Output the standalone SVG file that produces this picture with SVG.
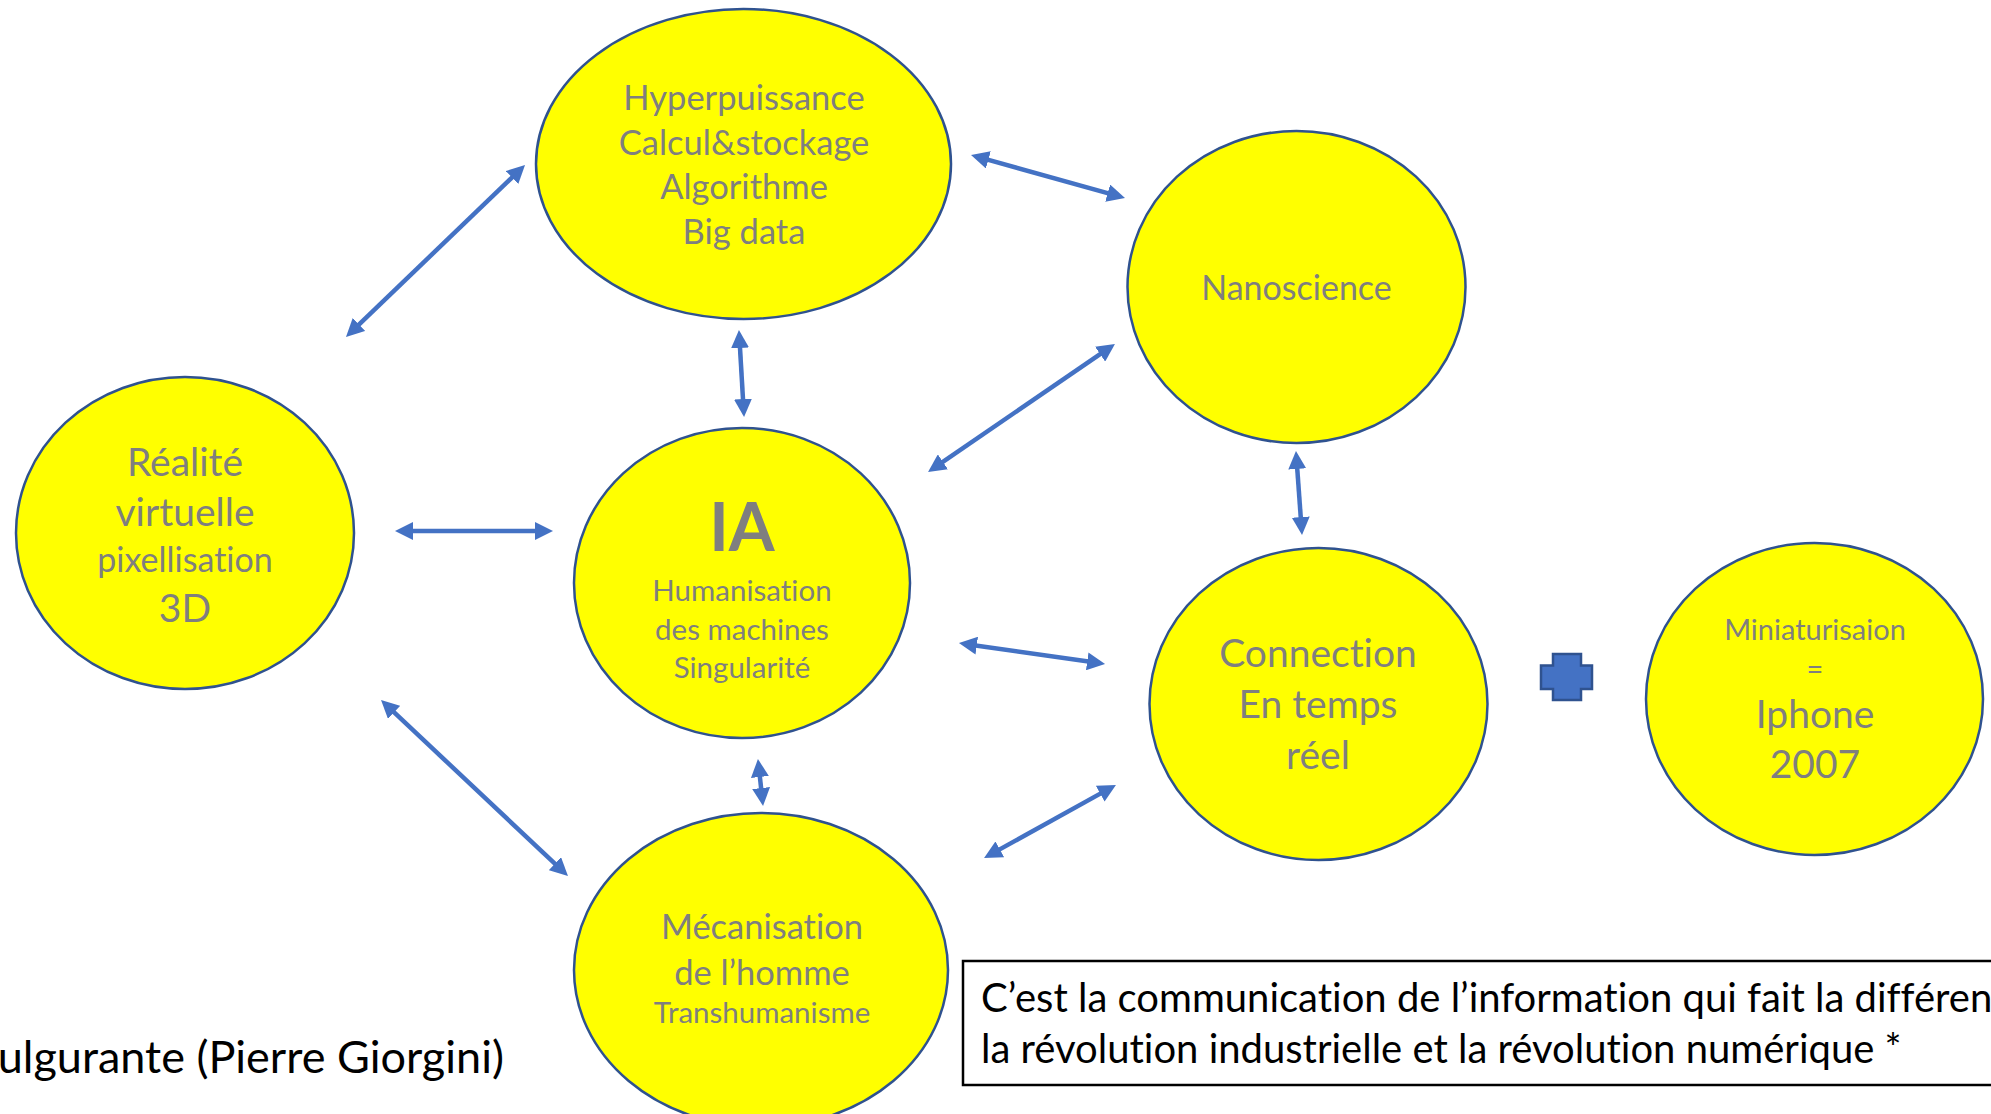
<svg xmlns="http://www.w3.org/2000/svg" width="1991" height="1114" viewBox="0 0 1991 1114">
<style>
.node ellipse{fill:#FFFF00;stroke:#2F528F;stroke-width:2.5}
.t{font-family:Lato,"Open Sans","Liberation Sans",sans-serif;fill:#7F7F7F;text-anchor:middle;font-variant-ligatures:none}
.k{font-family:Lato,"Open Sans","Liberation Sans",sans-serif;fill:#000000;font-variant-ligatures:none}
.conn line{stroke:#4472C4;stroke-width:4.5;marker-start:url(#ah);marker-end:url(#ah)}
</style>
<defs>
<marker id="ah" viewBox="0 0 18 18" markerUnits="userSpaceOnUse" markerWidth="18" markerHeight="18" refX="12" refY="9" orient="auto-start-reverse">
<path d="M0,0 L18,9 L0,18 z" fill="#4472C4"/>
</marker>
</defs>
<rect width="1991" height="1114" fill="#FFFFFF"/>
<g id="connectors" class="conn">
<line x1="520.7" y1="169.2" x2="350.3" y2="332.8"/>
<line x1="976.8" y1="156.6" x2="1119.2" y2="196.4"/>
<line x1="739.3" y1="336" x2="743.7" y2="411"/>
<line x1="1110" y1="347.4" x2="933" y2="468.6"/>
<line x1="1296.4" y1="457" x2="1301.6" y2="529"/>
<line x1="401" y1="531" x2="547" y2="531"/>
<line x1="964.9" y1="643.9" x2="1099.1" y2="663.1"/>
<line x1="385.4" y1="704.1" x2="563.6" y2="871.9"/>
<line x1="758.6" y1="765" x2="762.4" y2="800"/>
<line x1="989.3" y1="855.1" x2="1110.7" y2="787.9"/>
</g>
<g id="hyper" class="node">
<ellipse cx="743.5" cy="164" rx="207.5" ry="155"/>
<text class="t" x="744" y="110" font-size="34.5">Hyperpuissance</text>
<text class="t" x="744" y="155" font-size="34.5">Calcul&amp;stockage</text>
<text class="t" x="744" y="199" font-size="34.5">Algorithme</text>
<text class="t" x="744" y="244" font-size="34.5">Big data</text>
</g>
<g id="realite" class="node">
<ellipse cx="185" cy="533" rx="169" ry="156"/>
<text class="t" x="185" y="476" font-size="39">Réalité</text>
<text class="t" x="185" y="526" font-size="39">virtuelle</text>
<text class="t" x="185" y="572" font-size="34">pixellisation</text>
<text class="t" x="185" y="622" font-size="39">3D</text>
</g>
<g id="ia" class="node">
<ellipse cx="742" cy="583" rx="168" ry="155"/>
<text class="t" x="742" y="551" font-size="66" font-weight="bold">IA</text>
<text class="t" x="742" y="601" font-size="29.5">Humanisation</text>
<text class="t" x="742" y="640" font-size="29.5">des machines</text>
<text class="t" x="742" y="678" font-size="29.5">Singularité</text>
</g>
<g id="nano" class="node">
<ellipse cx="1296.5" cy="287" rx="169" ry="156"/>
<text class="t" x="1296.5" y="300" font-size="34">Nanoscience</text>
</g>
<g id="connection" class="node">
<ellipse cx="1318.5" cy="704" rx="169" ry="156"/>
<text class="t" x="1318" y="667" font-size="39">Connection</text>
<text class="t" x="1318" y="718" font-size="39">En temps</text>
<text class="t" x="1318" y="769" font-size="39">réel</text>
</g>
<g id="iphone" class="node">
<ellipse cx="1814.5" cy="699" rx="168.5" ry="156"/>
<text class="t" x="1815" y="640" font-size="29">Miniaturisaion</text>
<text class="t" x="1815" y="679" font-size="29">=</text>
<text class="t" x="1815" y="728" font-size="39">Iphone</text>
<text class="t" x="1815" y="778" font-size="39">2007</text>
</g>
<g id="meca" class="node">
<ellipse cx="761" cy="970" rx="187" ry="157"/>
<text class="t" x="762" y="939" font-size="34.5">Mécanisation</text>
<text class="t" x="762" y="985" font-size="34.5">de l’homme</text>
<text class="t" x="762" y="1023" font-size="29.5">Transhumanisme</text>
</g>
<g id="plus">
<path d="M1553,654 H1581 V665.5 H1592 V689 H1581 V700 H1553 V689 H1541 V665.5 H1553 Z" fill="#4472C4" stroke="#2F528F" stroke-width="2.5"/>
</g>
<g id="caption">
<text class="k" x="504" y="1073" font-size="45" text-anchor="end">ulgurante (Pierre Giorgini)</text>
</g>
<g id="note">
<rect x="963" y="961" width="1040" height="124" fill="#FFFFFF" stroke="#000000" stroke-width="2.5"/>
<text class="k" x="981" y="1012" font-size="40">C’est la communication de l’information qui fait la différen</text>
<text class="k" x="981" y="1063" font-size="40">la révolution industrielle et la révolution numérique *</text>
</g>
</svg>
